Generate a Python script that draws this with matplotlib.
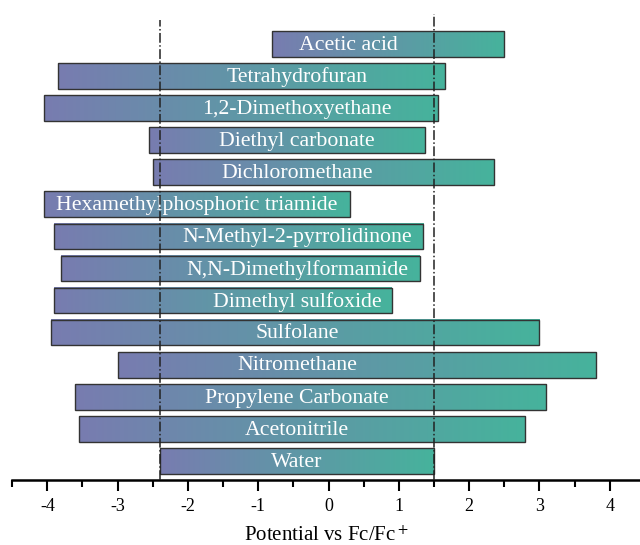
import numpy as np
import matplotlib
matplotlib.use('Agg')
import matplotlib.pyplot as plt
from matplotlib.colors import LinearSegmentedColormap
from matplotlib.patches import Rectangle

# electrochemical windows, bottom to top
solvents = ['Water', 'Acetonitrile', 'Propylene Carbonate', 'Nitromethane', 'Sulfolane',
            'Dimethyl sulfoxide', 'N,N-Dimethylformamide', 'N-Methyl-2-pyrrolidinone',
            'Hexamethylphosphoric triamide', 'Dichloromethane', 'Diethyl carbonate',
            '1,2-Dimethoxyethane', 'Tetrahydrofuran', 'Acetic acid']
low = [-2.4, -3.55, -3.6, -3.0, -3.95, -3.9, -3.8, -3.9, -4.05, -2.5, -2.55, -4.05, -3.85, -0.8]
high = [1.5, 2.8, 3.1, 3.8, 3.0, 0.9, 1.3, 1.35, 0.3, 2.35, 1.37, 1.55, 1.65, 2.5]
water_window = [-2.4, 1.5]

plt.rcParams['font.family'] = ['Liberation Serif', 'DejaVu Serif']
plt.rcParams['mathtext.fontset'] = 'stix'

fig = plt.figure(figsize=(6.4, 5.45), dpi=100)
ax = fig.add_axes([0.019, 0.119, 0.981, 0.881])

cmap = LinearSegmentedColormap.from_list('grad', ['#787cb0', '#46b39c'])
grad = np.linspace(0, 1, 256).reshape(1, -1)
h = 0.8
mid = sum(water_window) / 2
fs = 15.7

for i, name in enumerate(solvents):
    ax.imshow(grad, cmap=cmap, aspect='auto', extent=(low[i], high[i], i - h/2, i + h/2),
              zorder=1, interpolation='bilinear')
    ax.add_patch(Rectangle((low[i], i - h/2), high[i] - low[i], h, fill=False,
                           edgecolor='#333333', lw=1.0, zorder=2))
    # label sits in the middle of the water window unless it doesn't fit
    ty = i - 0.04
    if name == 'Acetic acid':
        ax.text(low[i] + 0.38, ty, name, ha='left', va='center', color='white', fontsize=fs, zorder=3)
    elif name.startswith('Hexamethyl'):
        ax.text((low[i] + high[i]) / 2, ty, name, ha='center', va='center', color='white', fontsize=fs, zorder=3)
    else:
        ax.text(mid, ty, name, ha='center', va='center', color='white', fontsize=fs, zorder=3)

ax.vlines(water_window[0], -0.6, 13.75, colors='#222222', linestyles='dashdot', lw=1.1, zorder=4)
ax.vlines(water_window[1], -0.6, 13.93, colors='#222222', linestyles='dashdot', lw=1.1, zorder=4)

ax.set_xlim(-4.5, 4.43)
ax.set_ylim(-0.6, 14.37)
for s in ['left', 'right', 'top']:
    ax.spines[s].set_visible(False)
ax.spines['bottom'].set_linewidth(1.8)
ax.set_yticks([])
ax.set_xticks(range(-4, 5))
ax.set_xticklabels([str(t) for t in range(-4, 5)])
ax.set_xticks(np.arange(-4.5, 4.5, 0.5), minor=True)
ax.tick_params(axis='x', which='major', direction='out', length=8, width=1.5, labelsize=13, pad=5)
ax.tick_params(axis='x', which='minor', direction='out', length=5, width=1.5)
ax.set_xlabel('Potential vs Fc/Fc$^+$', fontsize=15, labelpad=8)

fig.savefig('out.png', dpi=100)
